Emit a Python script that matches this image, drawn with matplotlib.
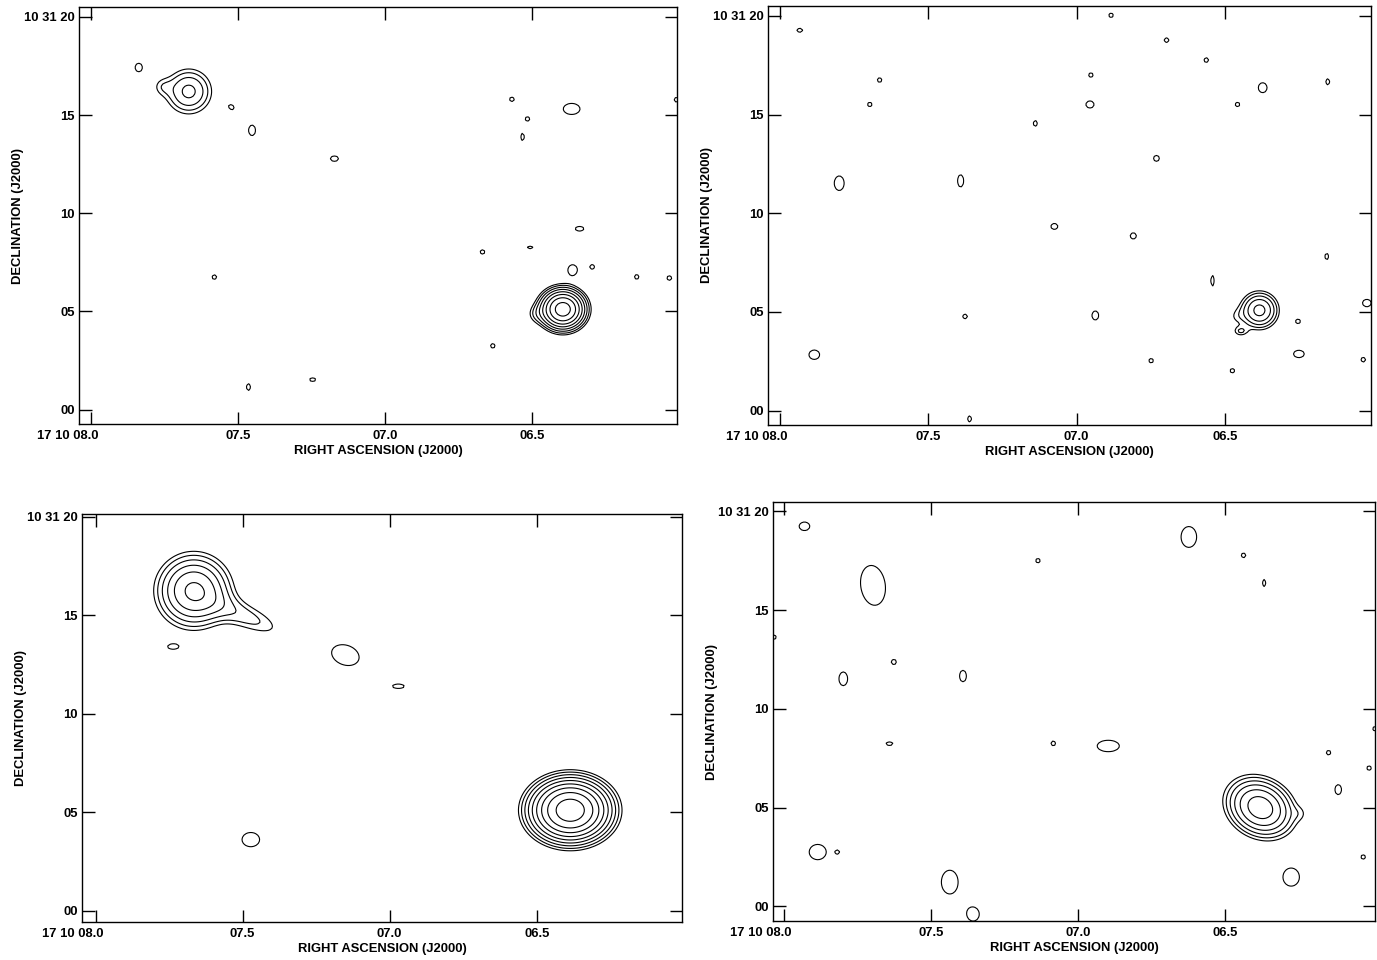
import numpy as np
import matplotlib.pyplot as plt
import matplotlib.transforms as mtransforms

plt.rcParams['font.family'] = ['Liberation Sans', 'DejaVu Sans']
plt.rcParams['font.weight'] = 'bold'

# contour levels (multiples of the lowest contour, factor sqrt 2)
levels = [1.0, 1.41, 2.0, 2.83, 4.0, 5.66, 8.0, 11.3, 16.0, 22.6]

ra_ticks = [8.0, 7.5, 7.0, 6.5]
ra_labels = ['17 10 08.0', '07.5', '07.0', '06.5']
dec_ticks = [0, 5, 10, 15, 20]
dec_labels = ['00', '05', '10', '15', '10 31 20']

# components: RA (s), Dec (arcsec), peak, sigma_x, sigma_y (arcsec), pa (deg)
p1_ra = [6.396, 6.49, 7.667, 7.76, 7.837, 7.522, 7.452, 7.172, 7.58, 7.464, 7.246, 6.569,
         6.516, 6.533, 6.366, 6.339, 6.507, 6.669, 6.363, 6.296, 6.145, 6.034, 6.634, 6.01]
p1_dec = [5.11, 4.85, 16.2, 16.45, 17.42, 15.40, 14.22, 12.78, 6.75, 1.15, 1.53, 15.8,
          14.8, 13.88, 15.31, 9.21, 8.26, 8.03, 7.12, 7.27, 6.76, 6.7, 3.25, 15.78]
p1_amp = [13.6, 0.8, 3.1, 0.85, 1.3, 1.3, 1.3, 1.3, 1.08, 1.3, 1.08, 1.08,
          1.08, 1.3, 1.3, 1.3, 1.05, 1.08, 1.38, 1.08, 1.08, 1.2, 1.08, 1.08]
p1_sx = [0.62, 0.35, 0.76, 0.35, 0.25, 0.2, 0.24, 0.28, 0.3, 0.14, 0.4, 0.3,
         0.3, 0.12, 0.58, 0.3, 0.45, 0.3, 0.28, 0.3, 0.3, 0.2, 0.3, 0.3]
p1_sy = [0.57, 0.35, 0.76, 0.35, 0.3, 0.15, 0.37, 0.19, 0.3, 0.24, 0.25, 0.3,
         0.3, 0.25, 0.39, 0.17, 0.25, 0.3, 0.32, 0.3, 0.3, 0.2, 0.3, 0.3]
p1_pa = [0, 0, 0, 0, 0, 40, 0, 0, 0, 0, 0, 0,
         0, 0, 0, 0, 0, 0, 0, 0, 0, 40, 0, 0]

p2_ra = [6.384, 6.465, 6.448, 7.933, 7.664, 7.697, 7.80, 7.391, 7.884, 7.376, 7.361, 7.139,
         6.955, 6.952, 6.884, 7.075, 6.937, 6.809, 6.731, 6.697, 6.563, 6.749, 6.542, 6.458,
         6.475, 6.373, 6.254, 6.251, 6.154, 6.157, 6.022, 6.034]
p2_dec = [5.08, 4.75, 4.01, 19.27, 16.75, 15.51, 11.52, 11.64, 2.83, 4.77, -0.42, 14.55,
          15.51, 17.0, 20.03, 9.33, 4.82, 8.85, 12.78, 18.77, 17.76, 2.53, 6.58, 15.51,
          2.02, 16.36, 4.52, 2.87, 16.66, 7.81, 5.45, 2.58]
p2_amp = [4.5, 0.7, 1.3, 1.3, 1.08, 1.08, 1.3, 1.3, 1.3, 1.08, 1.08, 1.3,
          1.3, 1.08, 1.08, 1.3, 1.3, 1.3, 1.3, 1.08, 1.08, 1.08, 1.3, 1.08,
          1.08, 1.3, 1.3, 1.3, 1.08, 1.08, 1.3, 1.08]
p2_sx = [0.57, 0.35, 0.28, 0.2, 0.3, 0.3, 0.34, 0.21, 0.37, 0.3, 0.25, 0.14,
         0.28, 0.3, 0.3, 0.24, 0.23, 0.21, 0.2, 0.3, 0.3, 0.3, 0.12, 0.3,
         0.3, 0.3, 0.17, 0.37, 0.25, 0.25, 0.3, 0.3]
p2_sy = [0.57, 0.35, 0.19, 0.14, 0.3, 0.3, 0.51, 0.43, 0.33, 0.3, 0.4, 0.2,
         0.25, 0.3, 0.3, 0.21, 0.32, 0.22, 0.21, 0.3, 0.3, 0.3, 0.37, 0.3,
         0.3, 0.35, 0.16, 0.26, 0.4, 0.4, 0.26, 0.3]
p2_pa = [0] * 32

p3_ra = [7.666, 7.49, 6.386, 7.737, 7.15, 6.97, 7.472]
p3_dec = [16.24, 14.95, 5.11, 13.40, 12.98, 11.4, 3.62]
p3_amp = [6.0, 1.6, 20.0, 1.1, 1.3, 1.15, 1.3]
p3_sx = [1.06, 1.5, 1.06, 0.45, 0.97, 0.55, 0.61]
p3_sy = [1.06, 0.5, 0.84, 0.22, 0.69, 0.22, 0.5]
p3_pa = [0, 23.6, 0, 0, 20, 0, 0]

p4_ra = [6.38, 6.241, 7.93, 7.697, 8.034, 7.626, 7.798, 7.391, 7.641, 7.136, 7.084, 6.897,
         6.623, 6.437, 6.367, 6.148, 6.01, 5.99, 6.115, 7.885, 7.816, 7.436, 7.356, 6.275, 6.03]
p4_dec = [5.0, 4.7, 19.24, 16.25, 13.63, 12.37, 11.52, 11.66, 8.24, 17.5, 8.25, 8.12,
          18.7, 17.77, 16.37, 7.78, 7.0, 8.99, 5.91, 2.75, 2.75, 1.23, -0.4, 1.48, 2.5]
p4_amp = [7.0, 0.5, 1.3, 1.3, 1.08, 1.08, 1.3, 1.3, 1.1, 1.08, 1.08, 1.3,
          1.3, 1.08, 1.3, 1.08, 1.08, 1.08, 1.3, 1.35, 0.9, 1.3, 1.3, 1.3, 1.08]
p4_sx = [1.0, 0.3, 0.37, 0.85, 0.3, 0.3, 0.3, 0.24, 0.4, 0.3, 0.3, 0.77,
         0.54, 0.3, 0.12, 0.3, 0.3, 0.3, 0.23, 0.55, 0.18, 0.58, 0.41, 0.57, 0.3]
p4_sy = [0.8, 0.3, 0.3, 1.4, 0.3, 0.3, 0.48, 0.4, 0.22, 0.3, 0.3, 0.4,
         0.73, 0.3, 0.25, 0.3, 0.3, 0.3, 0.35, 0.5, 0.18, 0.83, 0.47, 0.63, 0.3]
p4_pa = [30, 0, 0, -8, 0, 0, 0, 0, 0, 0, 0, 0,
         0, 0, 0, 0, 0, 0, 0, 0, 0, 0, 0, 0, 0]

# (ra, dec, amp, sx, sy, pa, ra limits, dec limits, axes rect in pixels left/top/right/bottom)
panels = [
    (p1_ra, p1_dec, p1_amp, p1_sx, p1_sy, p1_pa, (8.04, 6.008), (-0.73, 20.5), (79, 7, 677, 424)),
    (p2_ra, p2_dec, p2_amp, p2_sx, p2_sy, p2_pa, (8.04, 6.008), (-0.73, 20.5), (768, 6, 1371, 425)),
    (p3_ra, p3_dec, p3_amp, p3_sx, p3_sy, p3_pa, (8.046, 6.006), (-0.56, 20.14), (82, 514, 682, 922)),
    (p4_ra, p4_dec, p4_amp, p4_sx, p4_sy, p4_pa, (8.037, 5.99), (-0.74, 20.47), (773, 502, 1375, 921)),
]

W, H = 1377, 960
fig = plt.figure(figsize=(W / 100, H / 100), dpi=100)

sec_to_arcsec = 15 * np.cos(np.radians(10.52))
fs = 9.4

for ra, dec, amp, sx, sy, pa, xl, yl, box in panels:
    l, t, r, b = box
    ax = fig.add_axes([l / W, 1 - b / H, (r - l) / W, (b - t) / H])

    gra = np.arange(xl[1] - 0.05, xl[0] + 0.05, 0.1 / sec_to_arcsec)
    gdec = np.arange(yl[0] - 0.5, yl[1] + 0.5, 0.1)
    X, Y = np.meshgrid(gra, gdec)
    Z = np.zeros_like(X)
    for i in range(len(ra)):
        dx = (X - ra[i]) * sec_to_arcsec
        dy = Y - dec[i]
        th = np.radians(pa[i])
        u = dx * np.cos(th) + dy * np.sin(th)
        v = -dx * np.sin(th) + dy * np.cos(th)
        Z += amp[i] * np.exp(-0.5 * ((u / sx[i]) ** 2 + (v / sy[i]) ** 2))

    ax.contour(X, Y, Z, levels=levels, colors='k', linewidths=0.8)

    ax.set_xlim(xl)
    ax.set_ylim(yl)
    ax.set_xticks(ra_ticks)
    ax.set_xticklabels(ra_labels)
    ax.set_yticks(dec_ticks)
    ax.set_yticklabels(dec_labels)
    ax.tick_params(direction='in', top=True, right=True, length=9, width=1,
                   labelsize=fs, pad=3)
    ax.tick_params(axis='x', pad=4.5)
    for lab in ax.get_xticklabels() + ax.get_yticklabels():
        lab.set_fontweight('bold')
    # first RA label sits to the left of its tick
    first = ax.get_xticklabels()[0]
    first.set_horizontalalignment('right')
    first.set_transform(first.get_transform() +
                        mtransforms.ScaledTranslation(8 / 100, 0, fig.dpi_scale_trans))
    for s in ax.spines.values():
        s.set_linewidth(1)
    ax.set_xlabel('RIGHT ASCENSION (J2000)', fontsize=fs, fontweight='bold', labelpad=2)
    ax.set_ylabel('DECLINATION (J2000)', fontsize=fs, fontweight='bold', labelpad=0)

fig.savefig('out.png', dpi=100)
